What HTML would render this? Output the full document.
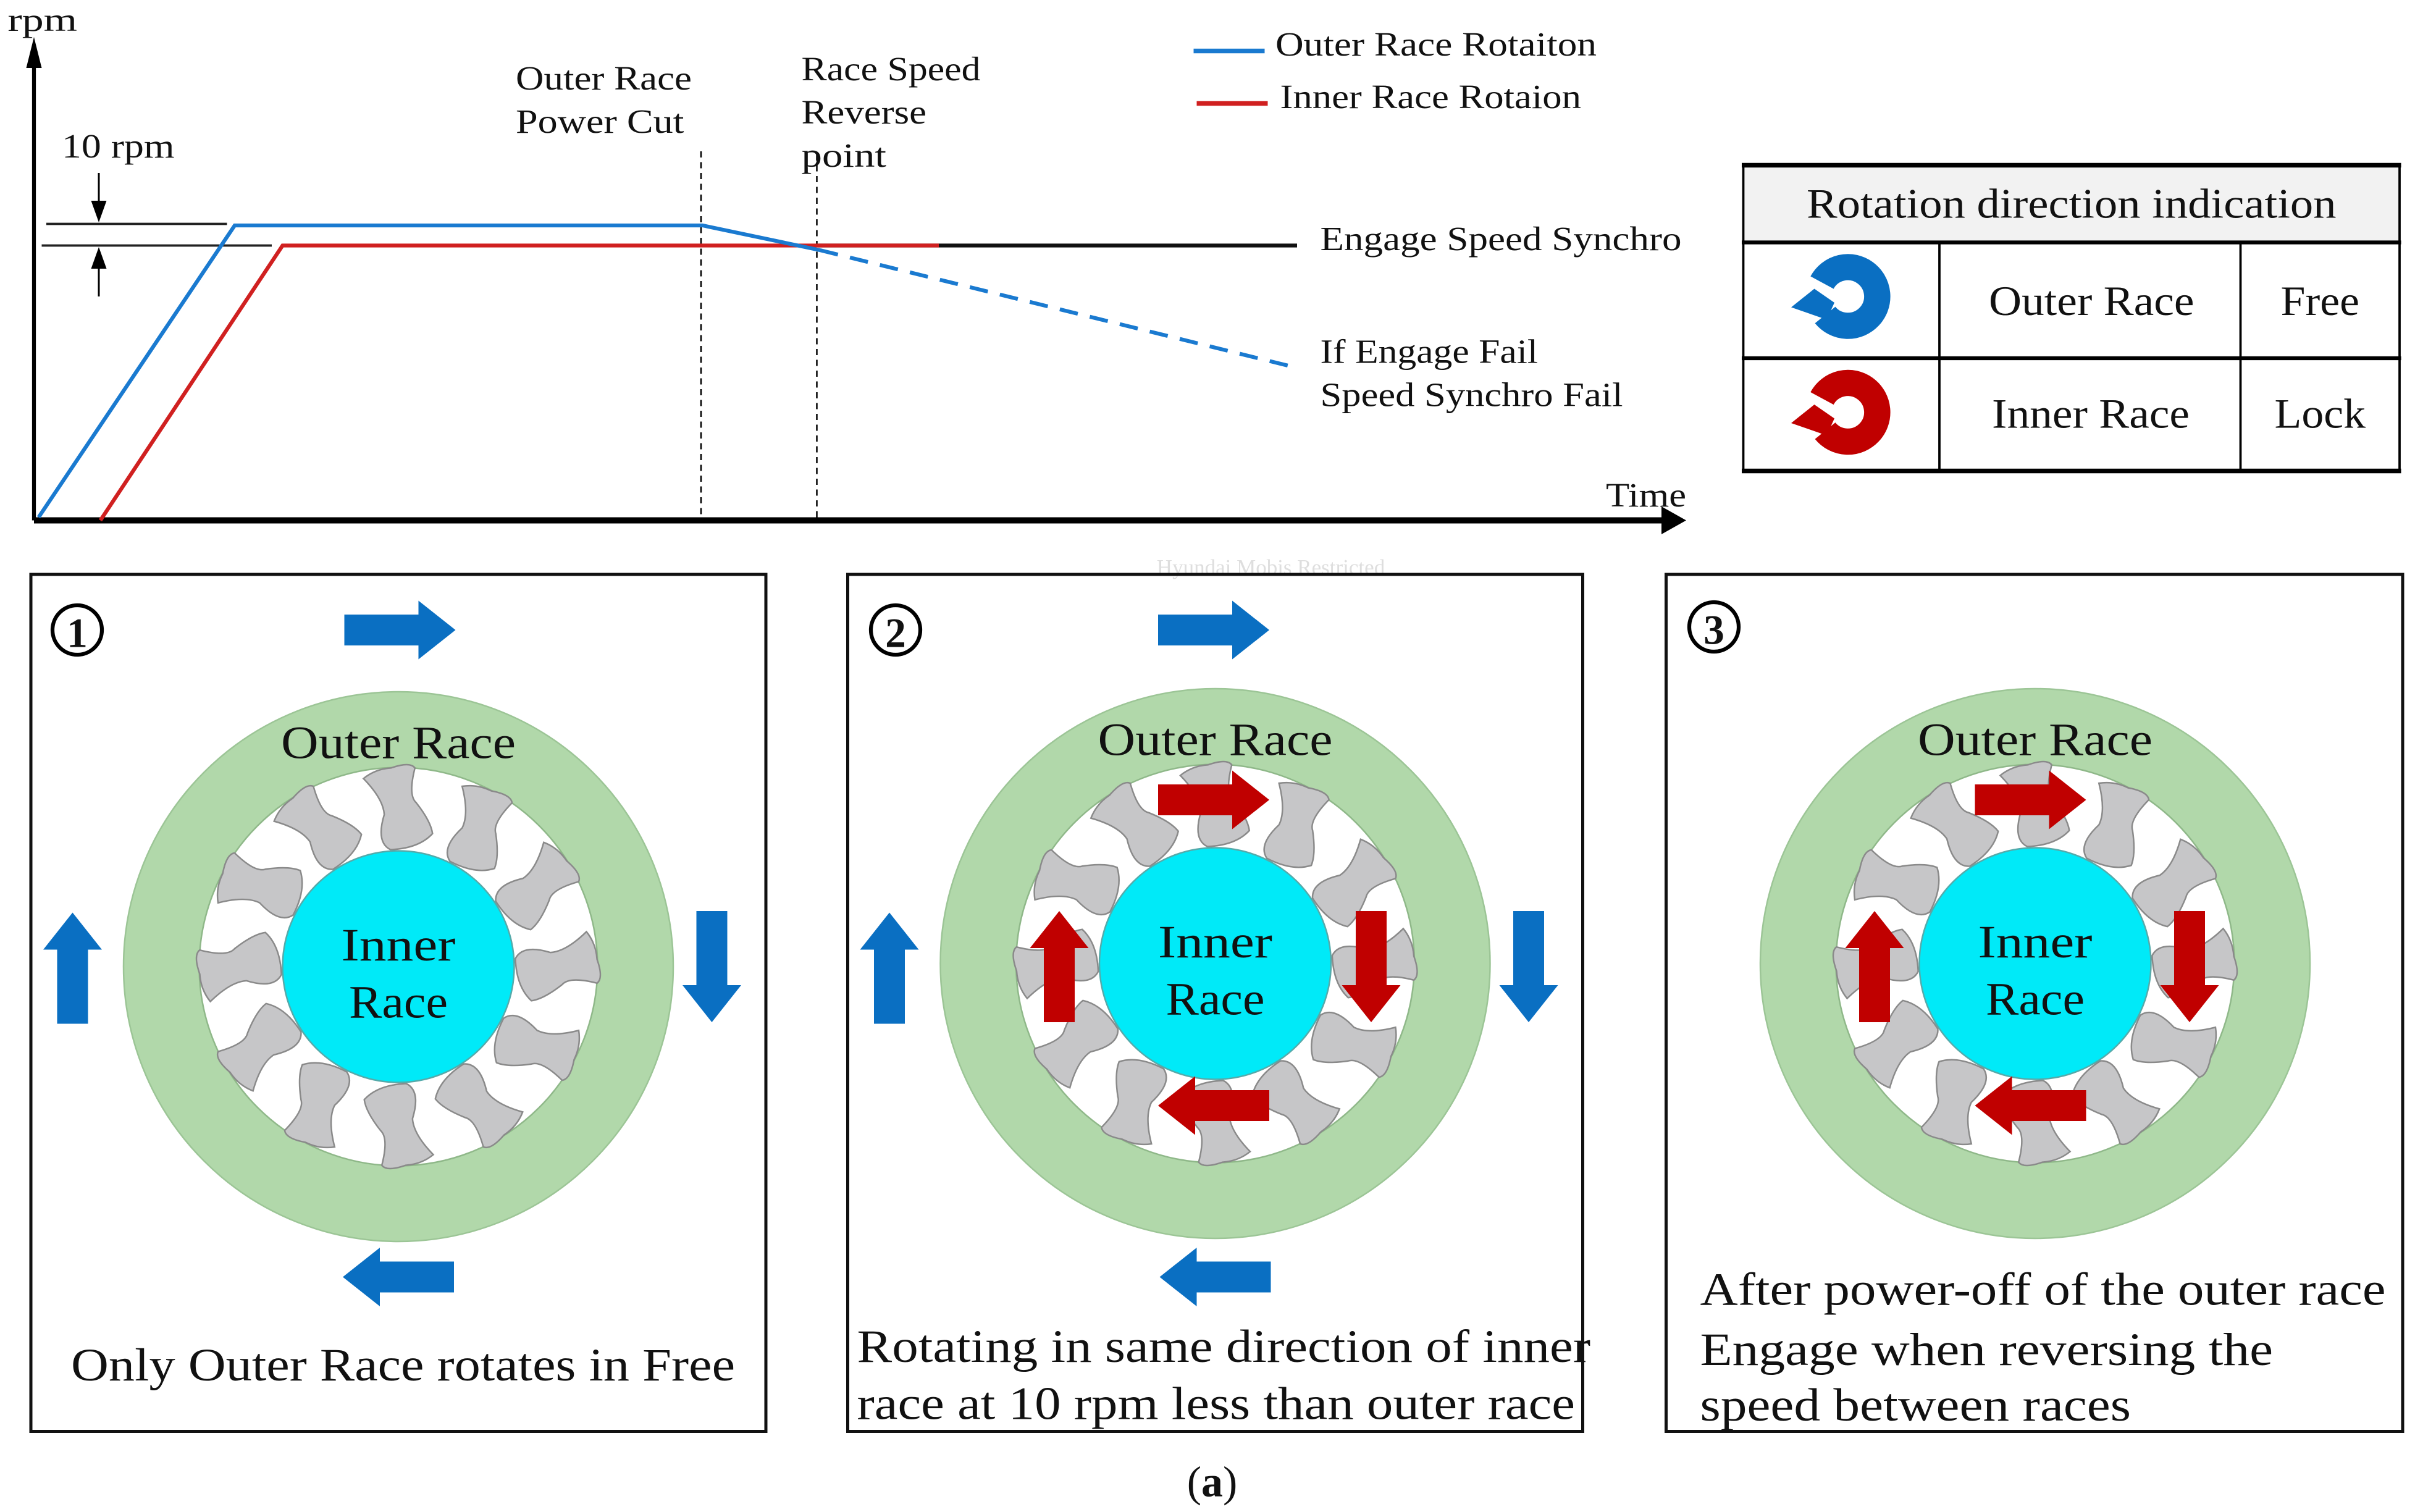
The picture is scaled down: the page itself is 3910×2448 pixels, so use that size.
<!DOCTYPE html>
<html><head><meta charset="utf-8"><style>
html,body{margin:0;padding:0;background:#fff;}
svg{display:block;}
text{font-family:"Liberation Serif",serif;fill:#111;}
</style></head><body>
<svg width="3910" height="2448" viewBox="0 0 1564 979.2" xmlns="http://www.w3.org/2000/svg">
<defs>
<path id="arr" d="M0,-10 H48 V-19 L72,0 L48,19 V10 H0 Z"/>
<path id="rol" d="M-17,-24 Q-8,-28 2,-26 Q15,-27 17,-22 Q8,-6 12,0 Q18,14 17,22 Q6,29 -12,25 Q-20,18 -10,2 Q-8,-8 -17,-24 Z" fill="#c6c6c8" stroke="#8a8a8a" stroke-width="1"/>
<g id="bear">
 <circle r="153.5" fill="none" stroke="#b1d8aa" stroke-width="49"/>
 <circle r="178" fill="none" stroke="#9cc596" stroke-width="1"/>
 <circle r="129" fill="#fff" stroke="#8fb889" stroke-width="1"/>
 <g>
  <use href="#rol" transform="rotate(0) translate(0,-103) rotate(-15)"/>
  <use href="#rol" transform="rotate(30) translate(0,-103) rotate(-15)"/>
  <use href="#rol" transform="rotate(60) translate(0,-103) rotate(-15)"/>
  <use href="#rol" transform="rotate(90) translate(0,-103) rotate(-15)"/>
  <use href="#rol" transform="rotate(120) translate(0,-103) rotate(-15)"/>
  <use href="#rol" transform="rotate(150) translate(0,-103) rotate(-15)"/>
  <use href="#rol" transform="rotate(180) translate(0,-103) rotate(-15)"/>
  <use href="#rol" transform="rotate(210) translate(0,-103) rotate(-15)"/>
  <use href="#rol" transform="rotate(240) translate(0,-103) rotate(-15)"/>
  <use href="#rol" transform="rotate(270) translate(0,-103) rotate(-15)"/>
  <use href="#rol" transform="rotate(300) translate(0,-103) rotate(-15)"/>
  <use href="#rol" transform="rotate(330) translate(0,-103) rotate(-15)"/>
 </g>
 <circle r="75" fill="#00eaf8" stroke="#5aa" stroke-width="1"/>
 <text x="-76" y="-135" font-size="30" textLength="152" lengthAdjust="spacingAndGlyphs">Outer Race</text>
 <text x="-37" y="-4" font-size="30" textLength="74" lengthAdjust="spacingAndGlyphs">Inner</text>
 <text x="-32" y="33" font-size="30" textLength="64" lengthAdjust="spacingAndGlyphs">Race</text>
</g>
</defs>

<!-- chart axes -->
<line x1="22" y1="337" x2="22" y2="40" stroke="#000" stroke-width="2.5"/>
<path d="M22,24 L17,44 L27,44 Z" fill="#000"/>
<text x="5" y="20" font-size="21" textLength="45" lengthAdjust="spacingAndGlyphs">rpm</text>
<line x1="22" y1="337" x2="1078" y2="337" stroke="#000" stroke-width="4"/>
<path d="M1092,337 L1076,328 L1076,346 Z" fill="#000"/>
<text x="1040" y="328" font-size="22" textLength="52" lengthAdjust="spacingAndGlyphs">Time</text>

<line x1="454" y1="98" x2="454" y2="335" stroke="#000" stroke-width="1" stroke-dasharray="4,3"/>
<line x1="529" y1="100" x2="529" y2="335" stroke="#000" stroke-width="1" stroke-dasharray="4,3"/>

<line x1="30" y1="145" x2="147" y2="145" stroke="#222" stroke-width="1.5"/>
<line x1="27" y1="159" x2="176" y2="159" stroke="#222" stroke-width="1.5"/>
<line x1="64" y1="112" x2="64" y2="134" stroke="#000" stroke-width="1.2"/>
<path d="M64,144 L59,130 L69,130 Z" fill="#000"/>
<line x1="64" y1="170" x2="64" y2="192" stroke="#000" stroke-width="1.2"/>
<path d="M64,160 L59,174 L69,174 Z" fill="#000"/>
<text x="40" y="102" font-size="22" textLength="73" lengthAdjust="spacingAndGlyphs">10 rpm</text>

<line x1="530" y1="159" x2="840" y2="159" stroke="#111" stroke-width="2.5"/>
<polyline points="65,337 183,159 608,159" fill="none" stroke="#d02020" stroke-width="2.5"/>
<polyline points="25,335 152,146 455,146 531,162" fill="none" stroke="#1a7ad0" stroke-width="2.5"/>
<line x1="531" y1="162" x2="835" y2="237" stroke="#1a7ad0" stroke-width="2.5" stroke-dasharray="12,8"/>

<g font-size="22">
<text x="334" y="58" textLength="114" lengthAdjust="spacingAndGlyphs">Outer Race</text>
<text x="334" y="86" textLength="109" lengthAdjust="spacingAndGlyphs">Power Cut</text>
<text x="519" y="52" textLength="116" lengthAdjust="spacingAndGlyphs">Race Speed</text>
<text x="519" y="80" textLength="81" lengthAdjust="spacingAndGlyphs">Reverse</text>
<text x="519" y="108" textLength="55" lengthAdjust="spacingAndGlyphs">point</text>
<text x="826" y="36" textLength="208" lengthAdjust="spacingAndGlyphs">Outer Race Rotaiton</text>
<text x="829" y="70" textLength="195" lengthAdjust="spacingAndGlyphs">Inner Race Rotaion</text>
<text x="855" y="162" textLength="234" lengthAdjust="spacingAndGlyphs">Engage Speed Synchro</text>
<text x="855" y="235" textLength="141" lengthAdjust="spacingAndGlyphs">If Engage Fail</text>
<text x="855" y="263" textLength="196" lengthAdjust="spacingAndGlyphs">Speed Synchro Fail</text>
</g>
<line x1="773" y1="33" x2="819" y2="33" stroke="#1a7ad0" stroke-width="3"/>
<line x1="775" y1="67" x2="821" y2="67" stroke="#d02020" stroke-width="3"/>

<!-- table -->
<rect x="1129" y="107" width="425" height="50" fill="#f2f2f2"/>
<line x1="1128" y1="107" x2="1555" y2="107" stroke="#000" stroke-width="3"/>
<line x1="1128" y1="157" x2="1555" y2="157" stroke="#000" stroke-width="2.5"/>
<line x1="1128" y1="232" x2="1555" y2="232" stroke="#000" stroke-width="2.5"/>
<line x1="1128" y1="305" x2="1555" y2="305" stroke="#000" stroke-width="3"/>
<line x1="1129" y1="107" x2="1129" y2="305" stroke="#000" stroke-width="1.5"/>
<line x1="1554" y1="107" x2="1554" y2="305" stroke="#000" stroke-width="1.5"/>
<line x1="1256" y1="157" x2="1256" y2="305" stroke="#000" stroke-width="1.5"/>
<line x1="1451" y1="157" x2="1451" y2="305" stroke="#000" stroke-width="1.5"/>
<g font-size="27">
<text x="1170" y="141" textLength="343" lengthAdjust="spacingAndGlyphs">Rotation direction indication</text>
<text x="1288" y="204" textLength="133" lengthAdjust="spacingAndGlyphs">Outer Race</text>
<text x="1477" y="204" textLength="51" lengthAdjust="spacingAndGlyphs">Free</text>
<text x="1290" y="277" textLength="128" lengthAdjust="spacingAndGlyphs">Inner Race</text>
<text x="1473" y="277" textLength="59" lengthAdjust="spacingAndGlyphs">Lock</text>
</g>
<g transform="translate(1196,193)">
 <path d="M-16,-10 A19,19 0 1 1 -14,11" fill="none" stroke="#0a6fc2" stroke-width="17"/>
 <path d="M-36,6 L-21,-6 L-8,3 L-13,14 Z" fill="#0a6fc2"/>
</g>
<g transform="translate(1196,268)">
 <path d="M-16,-10 A19,19 0 1 1 -14,11" fill="none" stroke="#c00000" stroke-width="17"/>
 <path d="M-36,6 L-21,-6 L-8,3 L-13,14 Z" fill="#c00000"/>
</g>

<text x="823" y="372" font-size="14" text-anchor="middle" style="fill:#dedede">Hyundai Mobis Restricted</text>

<!-- panels -->
<rect x="20" y="372" width="476" height="555" fill="none" stroke="#111" stroke-width="2"/>
<rect x="549" y="372" width="476" height="555" fill="none" stroke="#111" stroke-width="2"/>
<rect x="1079" y="372" width="477" height="555" fill="none" stroke="#111" stroke-width="2"/>

<circle cx="50" cy="408" r="16" fill="none" stroke="#000" stroke-width="2.5"/><text x="50" y="419" font-size="27" text-anchor="middle" font-weight="bold">1</text>
<circle cx="580" cy="408" r="16" fill="none" stroke="#000" stroke-width="2.5"/><text x="580" y="419" font-size="27" text-anchor="middle" font-weight="bold">2</text>
<circle cx="1110" cy="406" r="16" fill="none" stroke="#000" stroke-width="2.5"/><text x="1110" y="417" font-size="27" text-anchor="middle" font-weight="bold">3</text>

<use href="#bear" transform="translate(258,626)"/>
<use href="#bear" transform="translate(787,624)"/>
<use href="#bear" transform="translate(1318,624)"/>

<!-- blue arrows -->
<g fill="#0a6fc2">
<use href="#arr" transform="translate(223,408)"/>
<use href="#arr" transform="translate(47,663) rotate(-90)"/>
<use href="#arr" transform="translate(461,590) rotate(90)"/>
<use href="#arr" transform="translate(294,827) rotate(180)"/>
<use href="#arr" transform="translate(750,408)"/>
<use href="#arr" transform="translate(576,663) rotate(-90)"/>
<use href="#arr" transform="translate(990,590) rotate(90)"/>
<use href="#arr" transform="translate(823,827) rotate(180)"/>
</g>
<!-- red arrows -->
<g fill="#c00000">
<use href="#arr" transform="translate(750,518)"/>
<use href="#arr" transform="translate(686,662) rotate(-90)"/>
<use href="#arr" transform="translate(888,590) rotate(90)"/>
<use href="#arr" transform="translate(822,716) rotate(180)"/>
<use href="#arr" transform="translate(1279,518)"/>
<use href="#arr" transform="translate(1214,662) rotate(-90)"/>
<use href="#arr" transform="translate(1418,590) rotate(90)"/>
<use href="#arr" transform="translate(1351,716) rotate(180)"/>
</g>

<g font-size="30">
<text x="46" y="894" textLength="430" lengthAdjust="spacingAndGlyphs">Only Outer Race rotates in Free</text>
<text x="555" y="882" textLength="475" lengthAdjust="spacingAndGlyphs">Rotating in same direction of inner</text>
<text x="555" y="919" textLength="465" lengthAdjust="spacingAndGlyphs">race at 10 rpm less than outer race</text>
<text x="1101" y="845" textLength="444" lengthAdjust="spacingAndGlyphs">After power-off of the outer race</text>
<text x="1101" y="884" textLength="371" lengthAdjust="spacingAndGlyphs">Engage when reversing the</text>
<text x="1101" y="920" textLength="279" lengthAdjust="spacingAndGlyphs">speed between races</text>
</g>

<text x="785" y="969" font-size="28" text-anchor="middle">(<tspan font-weight="bold">a</tspan>)</text>
</svg>
</body></html>
